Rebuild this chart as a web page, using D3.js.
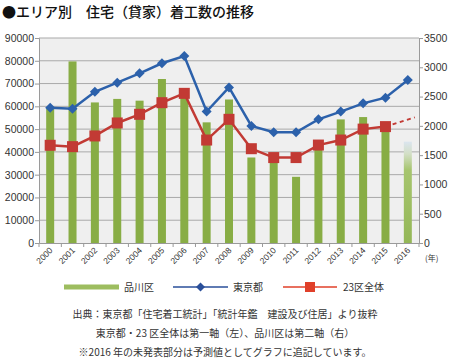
<!DOCTYPE html>
<html><head><meta charset="utf-8">
<script src="https://cdn.jsdelivr.net/npm/d3@7"></script>
<style>
body{margin:0;background:#fff;}
svg{display:block;font-family:"Noto Sans CJK JP","Noto Sans",sans-serif;}
</style></head>
<body>
<svg id="c" width="450" height="358"></svg>
<script>
const years = ["2000","2001","2002","2003","2004","2005","2006","2007","2008","2009","2010","2011","2012","2013","2014","2015","2016"];
const shinagawa = [2300,3100,2400,2460,2430,2800,2480,2060,2450,1460,1400,1130,1650,2110,2150,1950,1730];
const tokyo = [59400,58900,66400,70400,74500,78900,82100,57700,68300,51400,48600,48600,54300,57700,61300,63800,71600];
const ku23 = [42900,42300,47000,52700,56500,61600,65700,45200,54300,41400,37500,37500,43000,45200,50000,51100];
const ku23Forecast = [51100,54500];
const leftTicks = [0,10000,20000,30000,40000,50000,60000,70000,80000,90000];
const rightTicks = [0,500,1000,1500,2000,2500,3000,3500];
const legendLabels = ["品川区","東京都","23区全体"];
const notes = ["出典：東京都「住宅着工統計」「統計年鑑　建設及び住居」より抜粋","東京都・23 区全体は第一軸（左）、品川区は第二軸（右）","※2016 年の未発表部分は予測値としてグラフに追記しています。"];

const svg = d3.select("#c");
const L = 39, R = 419, T = 38, B = 243;
const green = "#88ad45", blue = "#2c61ab", red = "#c23a34";

svg.append("text").attr("x",2).attr("y",17).attr("font-size",14).attr("font-weight",500)
  .attr("fill","#111").text("●エリア別　住宅（貸家）着工数の推移");

const x = d3.scaleBand().domain(years).range([L,R]).padding(0);
const yL = d3.scaleLinear().domain([0,90000]).range([B,T]);
const yR = d3.scaleLinear().domain([0,3500]).range([B,T]);

const defs = svg.append("defs");
const gr = defs.append("linearGradient").attr("id","fc").attr("x1",0).attr("y1",0).attr("x2",0).attr("y2",1);
gr.append("stop").attr("offset","0%").attr("stop-color","#dbe5ef");
gr.append("stop").attr("offset","12%").attr("stop-color","#d3dfc6");
gr.append("stop").attr("offset","28%").attr("stop-color","#a6c56e");
gr.append("stop").attr("offset","100%").attr("stop-color","#94b757");

svg.append("rect").attr("x",L).attr("y",T).attr("width",R-L).attr("height",B-T).attr("fill","#efefef");

// grid
svg.append("g").selectAll("line").data(leftTicks.slice(1)).join("line")
  .attr("x1",L).attr("x2",R).attr("y1",d=>yL(d)).attr("y2",d=>yL(d))
  .attr("stroke","#a9a9a9").attr("stroke-width",1);

// bars
const bw = 8;
svg.append("g").selectAll("rect").data(shinagawa).join("rect")
  .attr("x",(d,i)=>x(years[i])+x.bandwidth()/2-bw/2)
  .attr("y",d=>yR(d)).attr("width",bw).attr("height",d=>B-yR(d))
  .attr("fill",(d,i)=> i===years.length-1 ? "url(#fc)" : green);

// axes
const axL = svg.append("g").attr("transform",`translate(${L},0)`)
  .call(d3.axisLeft(yL).tickValues(leftTicks).tickSize(4).tickPadding(1).tickFormat(d3.format("d")));
const axR = svg.append("g").attr("transform",`translate(${R},0)`)
  .call(d3.axisRight(yR).tickValues(rightTicks).tickSize(4).tickPadding(1).tickFormat(d3.format("d")));
const axB = svg.append("g").attr("transform",`translate(0,${B})`)
  .call(d3.axisBottom(x).tickSize(0).tickFormat(""));
[axL,axR,axB].forEach(a=>{
  a.select(".domain").attr("stroke","#9a9a9a");
  a.selectAll(".tick line").attr("stroke","#9a9a9a");
  a.selectAll("text").attr("fill","#333").attr("font-size",10.5).attr("font-family","Liberation Sans, Arial, sans-serif");
});
// x tick marks at band boundaries
const bounds = years.map(y=>x(y)).concat([R]);
svg.append("g").selectAll("line").data(bounds).join("line")
  .attr("x1",d=>d).attr("x2",d=>d).attr("y1",B).attr("y2",B+4).attr("stroke","#9a9a9a");
// x labels rotated
svg.append("g").selectAll("text").data(years).join("text")
  .attr("transform",d=>`translate(${x(d)+x.bandwidth()/2+3},${B+8}) rotate(-45)`)
  .attr("text-anchor","end").attr("font-size",8.5).attr("fill","#333")
  .attr("font-family","Liberation Sans, Arial, sans-serif").text(d=>d);
svg.append("text").attr("x",425).attr("y",261).attr("font-size",8).attr("fill","#333").text("(年)");

// lines
const lineL = d3.line().x((d,i)=>x(years[i])+x.bandwidth()/2).y(d=>yL(d));
svg.append("path").datum(tokyo).attr("d",lineL).attr("fill","none").attr("stroke",blue).attr("stroke-width",2.5);
svg.append("path").datum(ku23).attr("d",lineL).attr("fill","none").attr("stroke",red).attr("stroke-width",2.5);
const fx = [years[15],years[16]];
svg.append("path").datum(ku23Forecast)
  .attr("d",d3.line().x((d,i)=>x(fx[i])+x.bandwidth()/2+(i?7:0)).y((d,i)=>yL(d)-(i?1.5:0)))
  .attr("fill","none").attr("stroke",red).attr("stroke-width",2).attr("stroke-dasharray","4,3.5");

const diamond = d3.symbol().type(d3.symbolSquare).size(50);
svg.append("g").selectAll("path").data(tokyo).join("path")
  .attr("d",diamond)
  .attr("transform",(d,i)=>`translate(${x(years[i])+x.bandwidth()/2},${yL(d)}) rotate(45)`)
  .attr("fill",blue);
svg.append("g").selectAll("rect").data(ku23).join("rect")
  .attr("x",(d,i)=>x(years[i])+x.bandwidth()/2-5.5).attr("y",d=>yL(d)-5.5)
  .attr("width",11).attr("height",11).attr("fill",red);

// legend
const lg = svg.append("g").attr("font-size",10).attr("fill","#333");
lg.append("rect").attr("x",64).attr("y",284.5).attr("width",55).attr("height",5).attr("fill","#9dbd5f");
lg.append("text").attr("x",124).attr("y",291).text(legendLabels[0]);
lg.append("line").attr("x1",173).attr("x2",228).attr("y1",287).attr("y2",287).attr("stroke","#2a4f9a").attr("stroke-width",1.5);
lg.append("path").attr("d",d3.symbol().type(d3.symbolSquare).size(40)).attr("transform","translate(200.5,287) rotate(45)").attr("fill","#2a4f9a");
lg.append("text").attr("x",233).attr("y",291).text(legendLabels[1]);
lg.append("line").attr("x1",283).attr("x2",337).attr("y1",287).attr("y2",287).attr("stroke","#e0402a").attr("stroke-width",1.5);
lg.append("rect").attr("x",305).attr("y",282).attr("width",10).attr("height",10).attr("fill","#e0402a");
lg.append("text").attr("x",343).attr("y",291).text(legendLabels[2]);

svg.append("g").selectAll("text").data(notes).join("text")
  .attr("x",225).attr("y",(d,i)=>318+i*19).attr("text-anchor","middle")
  .attr("font-size",10).attr("fill","#333").text(d=>d);
</script>
</body></html>
